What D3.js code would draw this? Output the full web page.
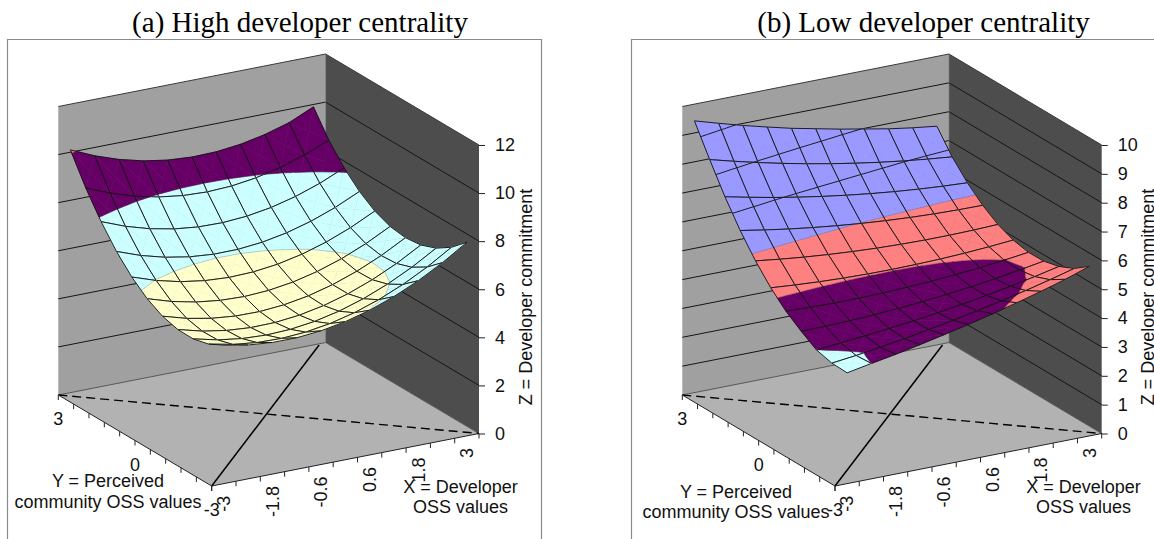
<!DOCTYPE html>
<html><head><meta charset="utf-8">
<script src="https://cdn.jsdelivr.net/npm/d3@7"></script>
<style>
html,body{margin:0;padding:0;background:#fff;}
svg{display:block;}
text{font-family:"Liberation Sans",Arial,sans-serif;fill:#111;}
.title{font-family:"Liberation Serif","Times New Roman",serif;fill:#000;}
</style></head><body>
<svg id="chart" width="1154" height="539"></svg>
<script>
// ---- data ----
const xCategories = [-3,-2.4,-1.8,-1.2,-0.6,0,0.6,1.2,1.8,2.4,3];
const yCategories = [-3,-2.4,-1.8,-1.2,-0.6,0,0.6,1.2,1.8,2.4,3];
const xTickLabels = ["-3","-1.8","-0.6","0.6","1.8","3"];
const yTickLabels = ["-3","0","3"];

// rows run from y=-3 to y=3, columns from x=-3 to x=3
const zHighCentrality = [
 [5.755,5.567,5.473,5.471,5.561,5.745,6.021,6.391,6.853,7.407,8.055],
 [5.426,5.212,5.092,5.064,5.128,5.286,5.536,5.880,6.316,6.844,7.466],
 [5.262,5.023,4.878,4.825,4.864,4.997,5.222,5.541,5.952,6.455,7.052],
 [5.273,5.008,4.837,4.758,4.771,4.878,5.077,5.370,5.755,6.232,6.803],
 [5.449,5.159,4.963,4.859,4.847,4.929,5.103,5.371,5.731,6.183,6.729],
 [5.800,5.484,5.262,5.132,5.094,5.150,5.298,5.540,5.874,6.300,6.820],
 [6.321,5.979,5.731,5.575,5.511,5.541,5.663,5.879,6.187,6.587,7.081],
 [7.007,6.640,6.367,6.186,6.097,6.102,6.199,6.390,6.673,7.048,7.517],
 [7.868,7.475,7.176,6.969,6.854,6.833,6.904,7.069,7.326,7.675,8.118],
 [8.894,8.476,8.152,7.920,7.780,7.734,7.780,7.920,8.152,8.476,8.894],
 [10.095,9.651,9.301,9.043,8.877,8.805,8.825,8.939,9.145,9.443,9.900]
];
const zLowCentrality = [
 [3.840,4.000,4.150,4.320,4.500,4.690,4.893,5.110,5.343,5.592,5.880],
 [3.860,3.960,4.080,4.210,4.360,4.518,4.682,4.860,5.054,5.264,5.488],
 [4.000,4.080,4.160,4.250,4.350,4.466,4.591,4.730,4.885,5.056,5.241],
 [4.332,4.342,4.366,4.406,4.462,4.532,4.618,4.718,4.834,4.966,5.112],
 [4.711,4.682,4.667,4.668,4.685,4.716,4.763,4.824,4.901,4.994,5.101],
 [5.210,5.142,5.088,5.050,5.028,5.020,5.028,5.050,5.088,5.142,5.210],
 [5.827,5.720,5.627,5.550,5.489,5.442,5.411,5.394,5.393,5.408,5.437],
 [6.564,6.418,6.286,6.170,6.070,5.984,5.914,5.858,5.818,5.794,5.784],
 [7.419,7.234,7.063,6.908,6.769,6.644,6.535,6.440,6.361,6.298,6.249],
 [8.392,8.168,7.958,7.764,7.586,7.422,7.274,7.140,7.022,6.920,6.832],
 [9.420,9.170,8.930,8.710,8.500,8.320,8.140,7.980,7.820,7.690,7.580]
];
const zTicksHigh = [0,2,4,6,8,10,12];
const zTicksLow = [0,1,2,3,4,5,6,7,8,9,10];
const bandEdgesHigh = [4,6,8,10,12];
const bandColorsHigh = ["#FFFFCC","#CCFFFF","#660066","#FF8080"];
const bandEdgesLow = [3,4,5,6,7,8,9,10];
const bandColorsLow = ["#CCFFFF","#660066","#FF8080","#9999FF","#9999FF","#9999FF","#9999FF"];
const inkedEdgesHigh = [];
const inkedEdgesLow = [7,8,9];
const titleHigh = "(a) High developer centrality";
const titleLow = "(b) Low developer centrality";
const zTitle = "Z = Developer commitment";
const yTitle = ["Y = Perceived","community OSS values"];
const xTitle = ["X = Developer","OSS values"];

// ---- drawing ----
const svg = d3.select("#chart");
const colWall = "#A0A0A0", colSide = "#4D4D4D", colFloor = "#B2B2B2";

function panel(cfg){
  const g = svg.append("g");
  const {F,R,L} = cfg;
  const xBand = d3.scaleBand().domain(xCategories).range([0,1]);
  const yPoint = d3.scalePoint().domain(yCategories).range([0,1]);
  const zAxisScale = d3.scaleLinear().domain([0,cfg.zMax]).range([R[1],cfg.zTopY]);
  const zPx = z => zAxisScale(z)-zAxisScale(0);
  const floorAt = (u,v)=>[F[0]+u*(R[0]-F[0])+v*(L[0]-F[0]), F[1]+u*(R[1]-F[1])+v*(L[1]-F[1])];
  const pt = (u,v,z)=>{const b=floorAt(u,v);return [b[0],b[1]+zPx(z)];};
  const line = d3.line();
  const closed = d3.line().curve(d3.curveLinearClosed);

  // frame
  g.append("path").attr("d",`M${cfg.frame[0]+.5},539V${cfg.frame[1]+.5}H${cfg.frame[2]+.5}V539`)
    .attr("fill","none").attr("stroke","#8a8a8a").attr("stroke-width",1.2);

  // title
  g.append("text").attr("class","title").attr("x",cfg.titleX).attr("y",32)
    .attr("text-anchor","middle").attr("font-size",29).text(cfg.title);

  // walls and floor
  const zm = cfg.zMax;
  g.append("path").attr("d",closed([floorAt(0,1),floorAt(1,1),pt(1,1,zm),pt(0,1,zm)])).attr("fill",colWall);
  g.append("path").attr("d",closed([floorAt(1,1),floorAt(1,0),pt(1,0,zm),pt(1,1,zm)])).attr("fill",colSide);
  g.append("path").attr("d",closed([F,R,floorAt(1,1),L])).attr("fill",colFloor);
  // wall gridlines
  cfg.zTicks.forEach(z=>{
    if(z===0) return;
    g.append("path").attr("d",line([pt(0,1,z),pt(1,1,z),pt(1,0,z)]))
      .attr("fill","none").attr("stroke",z===zm?"#3a3a3a":"#151515").attr("stroke-width",1);
  });
  g.append("path").attr("d",line([floorAt(0,1),floorAt(1,1),floorAt(1,0)]))
    .attr("fill","none").attr("stroke","#555").attr("stroke-width",1);
  g.append("path").attr("d",line([floorAt(1,1),pt(1,1,zm)])).attr("stroke","#777").attr("stroke-width",.6);

  // floor diagonals
  g.append("path").attr("d",line([F,floorAt(.97,.99)])).attr("stroke","#000").attr("stroke-width",1.5).attr("fill","none");
  g.append("path").attr("d",line([L,R])).attr("stroke","#000").attr("stroke-width",1.4).attr("fill","none").attr("stroke-dasharray","9 5");

  // surface: painted from the far corner to the near one
  const nx = xCategories.length, ny = yCategories.length;
  const vert = (i,j)=>{
    const z = cfg.z[j][i];
    const p = pt(xBand(xCategories[i])+xBand.bandwidth()/2, yPoint(yCategories[j]), z);
    return {x:p[0],y:p[1],z};
  };
  const lerp=(a,b,lv)=>{const t=(lv-a.z)/(b.z-a.z);return {x:a.x+t*(b.x-a.x),y:a.y+t*(b.y-a.y),z:lv};};
  const clip=(poly,lv,keepAbove)=>{
    const out=[];
    poly.forEach((a,k)=>{
      const b=poly[(k+1)%poly.length];
      const ai=keepAbove?a.z>=lv:a.z<=lv, bi=keepAbove?b.z>=lv:b.z<=lv;
      if(ai) out.push(a);
      if(ai!==bi) out.push(lerp(a,b,lv));
    });
    return out;
  };
  const surf = g.append("g");
  for(let j=ny-2;j>=0;j--){
    for(let i=nx-2;i>=0;i--){
      const a=vert(i,j),b=vert(i+1,j),c=vert(i+1,j+1),d=vert(i,j+1);
      const m={x:(a.x+b.x+c.x+d.x)/4,y:(a.y+b.y+c.y+d.y)/4,z:(a.z+b.z+c.z+d.z)/4};
      const tris=[[a,b,m],[b,c,m],[c,d,m],[d,a,m]];
      const cell=surf.append("g");
      tris.forEach(tri=>{
        cfg.colors.forEach((col,k)=>{
          let p=clip(tri,cfg.edges[k],true);
          if(p.length) p=clip(p,cfg.edges[k+1],false);
          if(p.length>=3){
            cell.append("path").attr("d",closed(p.map(q=>[q.x,q.y])))
              .attr("fill",col).attr("stroke",col).attr("stroke-width",.5);
          }
        });
      });
      tris.forEach(tri=>{
        cfg.edges.forEach(lv=>{
          const pts=[];
          tri.forEach((s,k)=>{
            const e=tri[(k+1)%3];
            if((s.z<lv)!==(e.z<lv)) pts.push(lerp(s,e,lv));
          });
          if(pts.length===2){
            const inked=cfg.inked.includes(lv);
            cell.append("path").attr("d",line(pts.map(q=>[q.x,q.y]))).attr("fill","none")
              .attr("stroke",inked?"#151515":"#333").attr("stroke-width",inked?.95:.4)
              .attr("stroke-opacity",inked?1:.55);
          }
        });
      });
      cell.append("path").attr("d",closed([a,b,c,d].map(q=>[q.x,q.y])))
        .attr("fill","none").attr("stroke","#151515").attr("stroke-width",.95).attr("stroke-linejoin","round");
    }
  }

  // z axis
  const zAxis = d3.axisRight(zAxisScale).tickValues(cfg.zTicks).tickSize(6).tickPadding(10).tickFormat(d3.format("d"));
  const za = g.append("g").attr("transform",`translate(${R[0]},0)`).call(zAxis);
  za.select(".domain").remove();
  za.selectAll(".tick line").attr("stroke","#222");
  za.selectAll("text").attr("font-size",18).attr("font-family",'"Liberation Sans",Arial,sans-serif').attr("fill","#111");

  // x axis along the front right edge
  g.append("path").attr("d",line([F,R])).attr("stroke","#222").attr("stroke-width",1).attr("fill","none");
  const xTickPos = xCategories.map(c=>xBand(c)).concat([1]);
  g.selectAll(".xt").data(xTickPos).enter().append("line").attr("class","xt")
    .attr("x1",d=>floorAt(d,0)[0]).attr("x2",d=>floorAt(d,0)[0])
    .attr("y1",d=>floorAt(d,0)[1]).attr("y2",d=>floorAt(d,0)[1]+5).attr("stroke","#222");
  g.selectAll(".xl").data(xTickLabels).enter().append("text").attr("class","xl")
    .attr("font-size",18).attr("text-anchor","end").attr("dy","0.35em")
    .attr("transform",d=>{const p=floorAt(xBand(+d)+xBand.bandwidth()/2,0);return `translate(${p[0]},${p[1]+12}) rotate(-90)`;})
    .text(d=>d);

  // y axis along the front left edge
  g.append("path").attr("d",line([F,L])).attr("stroke","#222").attr("stroke-width",1).attr("fill","none");
  g.selectAll(".yt").data(yCategories).enter().append("line").attr("class","yt")
    .attr("x1",d=>floorAt(0,yPoint(d))[0]).attr("x2",d=>floorAt(0,yPoint(d))[0])
    .attr("y1",d=>floorAt(0,yPoint(d))[1]).attr("y2",d=>floorAt(0,yPoint(d))[1]+5).attr("stroke","#222");
  g.selectAll(".yl").data(yTickLabels).enter().append("text").attr("class","yl")
    .attr("font-size",18).attr("text-anchor","middle")
    .attr("x",d=>floorAt(0,yPoint(+d))[0]).attr("y",d=>floorAt(0,yPoint(+d))[1]+30)
    .text(d=>d);

  // axis titles
  yTitle.forEach((t,k)=>g.append("text").attr("font-size",18).attr("text-anchor","middle")
    .attr("x",cfg.yTitleX).attr("y",cfg.yTitleY[k]).text(t));
  xTitle.forEach((t,k)=>g.append("text").attr("font-size",18).attr("text-anchor","middle")
    .attr("x",cfg.xTitleX).attr("y",[493,513][k]).text(t));
  g.append("text").attr("font-size",18).attr("text-anchor","middle")
    .attr("transform",`translate(${cfg.zTitleX},297) rotate(-90)`).text(zTitle);
}

panel({F:[211.7,486],R:[479,433.5],L:[58.3,395],zTopY:145,zMax:12,z:zHighCentrality,
  zTicks:zTicksHigh,edges:bandEdgesHigh,colors:bandColorsHigh,inked:inkedEdgesHigh,
  frame:[7,39,541],title:titleHigh,titleX:300,yTitleX:108,yTitleY:[487,508],xTitleX:460.5,zTitleX:532});
panel({F:[835,486],R:[1101.7,433.5],L:[682.3,395],zTopY:145,zMax:10,z:zLowCentrality,
  zTicks:zTicksLow,edges:bandEdgesLow,colors:bandColorsLow,inked:inkedEdgesLow,
  frame:[631,39,1160],title:titleLow,titleX:923.5,yTitleX:736,yTitleY:[498,518],xTitleX:1083.5,zTitleX:1154});
</script>
</body></html>
